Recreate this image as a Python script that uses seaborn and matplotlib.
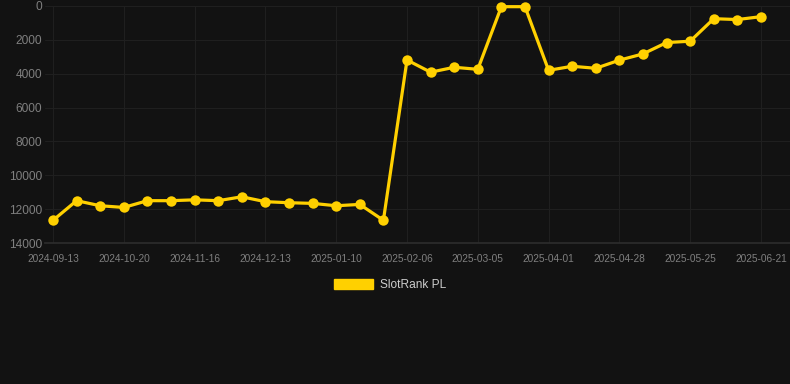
import pandas as pd
import seaborn as sns
import matplotlib.pyplot as plt
import numpy as np
from matplotlib.patches import Patch

# Data (rank, lower is better -> inverted axis)
dates = ['2024-09-13', '2024-09-25', '2024-10-08', '2024-10-20', '2024-10-29',
         '2024-11-07', '2024-11-16', '2024-11-25', '2024-12-04', '2024-12-13',
         '2024-12-22', '2025-01-01', '2025-01-10', '2025-01-19', '2025-01-28',
         '2025-02-06', '2025-02-15', '2025-02-24', '2025-03-05', '2025-03-14',
         '2025-03-23', '2025-04-01', '2025-04-10', '2025-04-19', '2025-04-28',
         '2025-05-07', '2025-05-16', '2025-05-25', '2025-06-03', '2025-06-12',
         '2025-06-21']
rank = [12660, 11500, 11800, 11900, 11500, 11500, 11450, 11500, 11270, 11560,
        11620, 11660, 11800, 11720, 12660, 3190, 3910, 3620, 3740, 40,
        40, 3800, 3560, 3680, 3200, 2830, 2160, 2080, 750, 800, 630]
series_name = 'SlotRank PL'
y_ticks = [0, 2000, 4000, 6000, 8000, 10000, 12000, 14000]

bg = '#121212'
gold = '#FFD000'
grid_col = '#1f1f1f'
tick_col = '#7f7f7f'

df = pd.DataFrame({'idx': np.arange(len(dates)), 'date': dates, 'rank': rank})

sns.set_theme(style='dark')
plt.rcParams['font.family'] = ['Liberation Sans', 'DejaVu Sans']

fig = plt.figure(figsize=(7.9, 3.84), dpi=100, facecolor=bg)
ax = fig.add_axes([45 / 790, 141 / 384, 745 / 790, 237 / 384])
ax.set_facecolor(bg)

sns.lineplot(data=df, x='idx', y='rank', color=gold, linewidth=2.3,
             marker='o', markersize=7.5, markeredgewidth=0, ax=ax, legend=False)
for ln in ax.lines:
    ln.set_clip_on(False)

ax.set_ylim(14000, 0)
ax.set_yticks(y_ticks)
ax.set_yticklabels([str(t) for t in y_ticks])
ax.set_xlim(-0.34, 31.23)
tick_idx = list(range(0, len(dates), 3))
ax.set_xticks(tick_idx)
ax.set_xticklabels([dates[i] for i in tick_idx])
ax.set_xlabel('')
ax.set_ylabel('')

ax.grid(True, color=grid_col, linewidth=0.8)
ax.tick_params(axis='y', colors=tick_col, labelsize=8.6, length=0, pad=2)
ax.tick_params(axis='x', colors=tick_col, labelsize=7.3, length=4, pad=4, color=grid_col)
for s in ['top', 'right', 'left']:
    ax.spines[s].set_visible(False)
ax.spines['bottom'].set_color('#2c2c2c')

handle = Patch(facecolor=gold, edgecolor=gold)
fig.legend([handle], [series_name], loc='center', bbox_to_anchor=(390 / 790, 1 - 285 / 384),
           frameon=False, fontsize=8.6, labelcolor='#cccccc',
           handlelength=3.3, handleheight=0.85, handletextpad=0.6)

fig.savefig('out.png', dpi=100, facecolor=bg)
